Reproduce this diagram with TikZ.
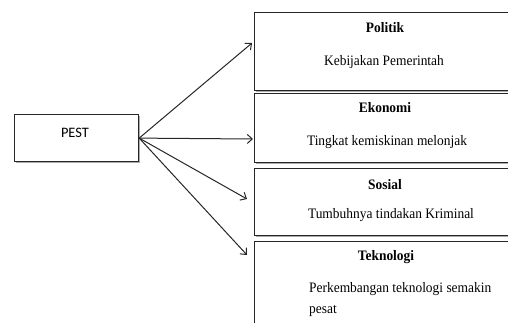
\documentclass[tikz,border=0pt]{standalone}
\usepackage{fontspec}
\setmainfont{Liberation Serif}[FakeStretch=0.93]
\newfontfamily\pestfont{Carlito}
\usetikzlibrary{arrows.meta,shadows,positioning}

\tikzset{
  box/.style={draw=black!85, line width=1.2bp, fill=white, rectangle,
    inner sep=0pt, anchor=north west,
    drop shadow={shadow xshift=1.2bp, shadow yshift=-1.4bp, fill=black!55, opacity=0.6}},
  title/.style={anchor=base, inner sep=0pt, font=\fontsize{14.5}{17}\selectfont\bfseries},
  body/.style={anchor=base, inner sep=0pt, font=\fontsize{14.5}{17}\selectfont},
  link/.style={draw=black!85, line width=1bp, -{Straight Barb[length=5bp,width=9bp]}}
}

\begin{document}
\begin{tikzpicture}[x=1bp, y=-1bp]
  \useasboundingbox (0,0) rectangle (508,322);
  \clip (0,0) rectangle (508,322);

  % source box
  \node[box, minimum width=124bp, minimum height=47bp] (pest) at (14,114) {};
  \node[anchor=base, inner sep=0pt, font=\pestfont\fontsize{14.5}{17}\selectfont] (pestlbl) at (75,137) {PEST};

  % the four factor boxes, running off the right edge
  \node[box, minimum width=280bp, minimum height=78bp] (pol) at (254,12) {};
  \node[box, minimum width=280bp, minimum height=69bp] (eko) at (254,93) {};
  \node[box, minimum width=280bp, minimum height=67bp] (sos) at (254,168) {};
  \node[box, minimum width=280bp, minimum height=100bp] (tek) at (254,241) {};

  % titles and descriptions
  \node[title] (polt) at (385,32) {Politik};
  \node[body]  (pold) at (384,65) {Kebijakan Pemerintah};
  \node[title] (ekot) at (385,112) {Ekonomi};
  \node[body]  (ekod) at (387,145) {Tingkat kemiskinan melonjak};
  \node[title] (sost) at (385,189) {Sosial};
  \node[body]  (sosd) at (391,218) {Tumbuhnya tindakan Kriminal};
  \node[title] (tekt) at (386,260) {Teknologi};
  \node[body, anchor=base west] (tekd) at (309,292) {Perkembangan teknologi semakin};
  \node[body, anchor=base west] (tekd2) at (309,313) {pesat};

  % arrow ends
  \coordinate (src) at (pest.east);
  \coordinate (tpol) at (252,43);
  \coordinate (teko) at (253,139);
  \coordinate (tsos) at (247,199);
  \coordinate (ttek) at (247,255);

  \draw[link] (src) -- (tpol);
  \draw[link] (src) -- (teko);
  \draw[link] (src) -- (tsos);
  \draw[link] (src) -- (ttek);
\end{tikzpicture}
\end{document}
